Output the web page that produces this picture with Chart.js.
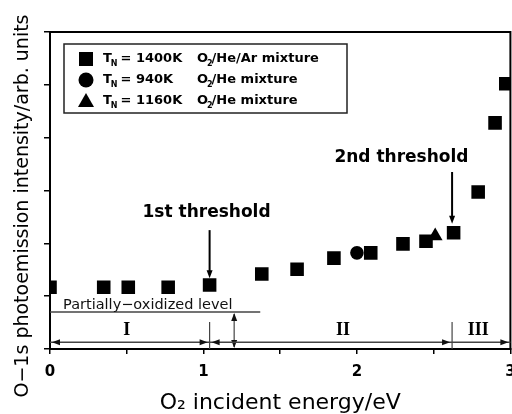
<!DOCTYPE html>
<html lang="en">
<head>
<meta charset="UTF-8">
<title>O-1s photoemission vs O2 incident energy</title>
<script src="https://cdn.jsdelivr.net/npm/chart.js"></script>
<style>
  html, body { margin: 0; padding: 0; background: #fff; overflow: hidden; }
  canvas { display: block; }
</style>
</head>
<body>
<!-- a little wider than the window so the frame meets the edge and the "3" is cut, as in the scan -->
<canvas id="myChart" width="520" height="414"></canvas>
<script>
// T_N = 1400K, O2/He/Ar mixture
const energy1400 = [0, 0.35, 0.51, 0.77, 1.04, 1.38, 1.61, 1.85, 2.09, 2.30, 2.45, 2.63, 2.79, 2.90, 2.97];
const intensity1400 = [1.17, 1.17, 1.17, 1.17, 1.21, 1.42, 1.51, 1.72, 1.82, 1.99, 2.04, 2.20, 2.97, 4.28, 5.02];
// T_N = 940K, O2/He mixture
const energy940 = [2.00];
const intensity940 = [1.82];
// T_N = 1160K, O2/He mixture
const energy1160 = [2.51];
const intensity1160 = [2.14];

const thresholds = [1.04, 2.62];
const thresholdNames = ['1st threshold', '2nd threshold'];
const partialLevel = 0.70;
const regionNames = ['I', 'II', 'III'];
const regionCenters = [0.5, 1.91, 2.79];

const legendRows = [
    { t: '1400K', gas: '/He/Ar mixture', shape: 'rect' },
    { t: '940K', gas: '/He mixture', shape: 'circle' },
    { t: '1160K', gas: '/He mixture', shape: 'triangle' }
];

function toPoints(xs, ys) {
    return xs.map((x, i) => ({ x: x, y: ys[i] }));
}

const FONT = '"DejaVu Sans", Verdana, sans-serif';

function arrowHead(ctx, x, y, dir) {
    const len = 8, hw = 3;
    ctx.beginPath();
    ctx.moveTo(x, y);
    if (dir === 'l') { ctx.lineTo(x + len, y - hw); ctx.lineTo(x + len, y + hw); }
    if (dir === 'r') { ctx.lineTo(x - len, y - hw); ctx.lineTo(x - len, y + hw); }
    if (dir === 'u') { ctx.lineTo(x - hw, y + len); ctx.lineTo(x + hw, y + len); }
    if (dir === 'd') { ctx.lineTo(x - hw, y - len); ctx.lineTo(x + hw, y - len); }
    ctx.closePath();
    ctx.fill();
}

function line(ctx, x1, y1, x2, y2) {
    ctx.beginPath();
    ctx.moveTo(x1, y1);
    ctx.lineTo(x2, y2);
    ctx.stroke();
}

const annotations = {
    id: 'annotations',
    afterDraw(chart) {
        const ctx = chart.ctx;
        const X = v => chart.scales.x.getPixelForValue(v);
        const Y = v => chart.scales.y.getPixelForValue(v);
        const a = chart.chartArea;
        ctx.save();

        // frame
        ctx.strokeStyle = '#000';
        ctx.lineWidth = 2;
        ctx.strokeRect(a.left, a.top, a.right - a.left, a.bottom - a.top);

        // y title, centred on the whole figure like the original
        ctx.fillStyle = '#000';
        ctx.save();
        ctx.translate(28, 206);
        ctx.rotate(-Math.PI / 2);
        ctx.font = '19px ' + FONT;
        ctx.textAlign = 'center';
        ctx.textBaseline = 'alphabetic';
        ctx.fillText('O\u22121s photoemission intensity/arb. units', 0, 0);
        ctx.restore();

        // partially-oxidized level
        ctx.strokeStyle = '#444';
        ctx.fillStyle = '#111';
        ctx.lineWidth = 1.5;
        line(ctx, X(0), Y(partialLevel), X(1.37), Y(partialLevel));
        ctx.font = '14.5px ' + FONT;
        ctx.textAlign = 'left';
        ctx.textBaseline = 'alphabetic';
        ctx.fillText('Partially\u2212oxidized level', X(0.085), Y(partialLevel) - 3);

        // double arrow down to zero
        ctx.lineWidth = 1.2;
        line(ctx, X(1.2), Y(partialLevel) + 2, X(1.2), Y(0) - 2);
        arrowHead(ctx, X(1.2), Y(partialLevel) + 1, 'u');
        arrowHead(ctx, X(1.2), Y(0) - 1, 'd');

        // regions I, II, III
        const ry = Y(0.13);
        ctx.lineWidth = 1.5;
        line(ctx, X(0), ry, X(3), ry);
        ctx.lineWidth = 1.2;
        thresholds.forEach(t => line(ctx, X(t), Y(0.51), X(t), Y(0)));
        arrowHead(ctx, X(0) + 2, ry, 'l');
        arrowHead(ctx, X(thresholds[0]) - 2, ry, 'r');
        arrowHead(ctx, X(thresholds[0]) + 2, ry, 'l');
        arrowHead(ctx, X(thresholds[1]) - 2, ry, 'r');
        arrowHead(ctx, X(3) - 2, ry, 'r');
        ctx.fillStyle = '#000';
        ctx.font = 'bold 18px "Liberation Serif", serif';
        ctx.textAlign = 'center';
        ctx.textBaseline = 'middle';
        regionNames.forEach((n, i) => ctx.fillText(n, X(regionCenters[i]), Y(0.35)));

        // threshold arrows
        ctx.strokeStyle = '#000';
        ctx.lineWidth = 2;
        const arrowSpans = [[2.25, 1.34], [3.35, 2.37]];
        const labelPos = [[1.02, 2.59], [2.29, 3.62]];
        thresholds.forEach((t, i) => {
            line(ctx, X(t), Y(arrowSpans[i][0]), X(t), Y(arrowSpans[i][1]) - 4);
            arrowHead(ctx, X(t), Y(arrowSpans[i][1]), 'd');
            ctx.font = 'bold 17px ' + FONT;
            ctx.textAlign = 'center';
            ctx.textBaseline = 'middle';
            ctx.fillText(thresholdNames[i], X(labelPos[i][0]), Y(labelPos[i][1]));
        });

        // legend
        const lx = a.left + 14, ly = a.top + 12;
        ctx.lineWidth = 1.5;
        ctx.strokeStyle = '#222';
        ctx.strokeRect(lx, ly, 283, 69);
        legendRows.forEach((r, i) => {
            const cy = ly + 15 + i * 21;
            const cx = lx + 22;
            ctx.fillStyle = '#000';
            ctx.beginPath();
            if (r.shape === 'rect') ctx.rect(cx - 7, cy - 7, 14, 14);
            if (r.shape === 'circle') ctx.arc(cx, cy, 7.5, 0, Math.PI * 2);
            if (r.shape === 'triangle') { ctx.moveTo(cx, cy - 8); ctx.lineTo(cx + 8, cy + 6); ctx.lineTo(cx - 8, cy + 6); ctx.closePath(); }
            ctx.fill();
            ctx.textAlign = 'left';
            ctx.textBaseline = 'middle';
            let x = lx + 39;
            ctx.font = 'bold 13px ' + FONT;
            ctx.fillText('T', x, cy);
            x += ctx.measureText('T').width - 1;
            ctx.font = 'bold 8px ' + FONT;
            ctx.fillText('N', x, cy + 5);
            x += ctx.measureText('N').width + 3;
            ctx.font = 'bold 13px ' + FONT;
            ctx.fillText('= ' + r.t, x, cy);
            x = lx + 133;
            ctx.fillText('O', x, cy);
            x += ctx.measureText('O').width - 1;
            ctx.font = 'bold 8px ' + FONT;
            ctx.fillText('2', x, cy + 5);
            x += ctx.measureText('2').width - 1;
            ctx.font = 'bold 13px ' + FONT;
            ctx.fillText(r.gas, x, cy);
        });
        ctx.restore();
    }
};

const ctx = document.getElementById('myChart').getContext('2d');
const noClip = { left: 0, top: 0, right: 0, bottom: 0 };
new Chart(ctx, {
    type: 'scatter',
    data: {
        datasets: [
            { label: 'TN = 1400K O2/He/Ar mixture', data: toPoints(energy1400, intensity1400),
              pointStyle: 'rect', pointRadius: 9.6, backgroundColor: '#000', borderColor: '#000', borderWidth: 0, clip: noClip },
            { label: 'TN = 940K O2/He mixture', data: toPoints(energy940, intensity940),
              pointStyle: 'circle', pointRadius: 6.8, backgroundColor: '#000', borderColor: '#000', borderWidth: 0, clip: noClip },
            { label: 'TN = 1160K O2/He mixture', data: toPoints(energy1160, intensity1160),
              pointStyle: 'triangle', pointRadius: 8.5, backgroundColor: '#000', borderColor: '#000', borderWidth: 0, clip: noClip }
        ]
    },
    options: {
        responsive: false,
        animation: false,
        layout: { padding: { top: 32, right: 2, left: 0, bottom: 0 } },
        plugins: { legend: { display: false }, tooltip: { enabled: false } },
        scales: {
            x: {
                type: 'linear', min: 0, max: 3,
                ticks: {
                    stepSize: 0.5, autoSkip: false, color: '#000', padding: 0,
                    font: { family: FONT, size: 15, weight: 'bold', lineHeight: 2.4 },
                    callback: v => Number.isInteger(v) ? String(v) : ''
                },
                grid: { drawOnChartArea: false, tickLength: 5, color: '#000', lineWidth: 1.5 },
                border: { color: '#000', width: 2 },
                title: { display: true, text: 'O\u2082 incident energy/eV', color: '#000',
                         font: { family: FONT, size: 22, lineHeight: 0.95 }, padding: { top: 0, bottom: 0 } },
                afterFit: s => { s.height = 65; s.paddingRight = 0; s.paddingLeft = 0; }
            },
            y: {
                min: 0, max: 6,
                ticks: { stepSize: 1, callback: () => '' },
                grid: { drawOnChartArea: false, tickLength: 6, color: '#000', lineWidth: 1.5 },
                border: { color: '#000', width: 2 },
                afterFit: s => { s.width = 50; }
            }
        }
    },
    plugins: [annotations]
});
</script>
</body>
</html>
